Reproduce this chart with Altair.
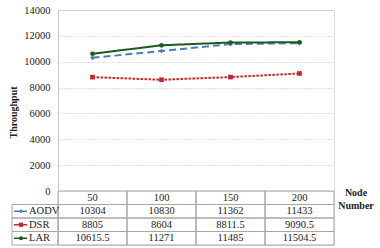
import altair as alt
import pandas as pd

nodes = ["50", "100", "150", "200"]
protocols = ["AODV", "DSR", "LAR"]
aodv = [10304, 10830, 11362, 11433]
dsr = [8805, 8604, 8811.5, 9090.5]
lar = [10615.5, 11271, 11485, 11504.5]
y_ticks = [0, 2000, 4000, 6000, 8000, 10000, 12000, 14000]

series = {"AODV": aodv, "DSR": dsr, "LAR": lar}
colors = ["#4a7ebb", "#c0282a", "#1d5a1d"]
marker_colors = ["#1f4e8c", "#c0282a", "#0f3d0f"]
dashes = [[7, 4], [2.5, 1.5], [1, 0]]
shapes = ["diamond", "square", "circle"]

rows = []
for p in protocols:
    for n, v in zip(nodes, series[p]):
        rows.append({"Protocol": p, "Node": n, "Throughput": v, "Label": f"{v:g}", "Row": p})
df = pd.DataFrame(rows)
hdr = pd.DataFrame({"Node": nodes, "Label": nodes, "Row": ["hdr"] * 4})
cells = pd.concat([hdr, df[["Node", "Label", "Row"]]], ignore_index=True)
keys = pd.DataFrame({"Protocol": protocols, "Row": protocols})

SERIF = "Liberation Serif"
row_domain = ["hdr"] + protocols
x_enc = alt.X("Node:N", sort=nodes, bandPosition=0.5,
              scale=alt.Scale(type="band", domain=nodes, paddingInner=0, paddingOuter=0),
              axis=None)
x_band = alt.X("Node:N", sort=nodes,
               scale=alt.Scale(type="band", domain=nodes, paddingInner=0, paddingOuter=0),
               axis=None)
color_scale = alt.Scale(domain=protocols, range=colors)
mcolor_scale = alt.Scale(domain=protocols, range=marker_colors)
row_scale = alt.Scale(type="band", domain=row_domain, range=[181, 235], paddingInner=0, paddingOuter=0)
tp_scale = alt.Scale(domain=[0, 14000], range=[181, 0], nice=False)

base = alt.Chart(df)
lines = base.mark_line(strokeWidth=2).encode(
    x=x_enc,
    y=alt.Y("Throughput:Q", scale=tp_scale,
            axis=alt.Axis(values=y_ticks, format="d", title="Throughput",
                          titleFont=SERIF, titleFontSize=10, titleFontWeight="bold",
                          titleColor="#222", titleX=-45, titleY=102, titleAngle=-90,
                          titleAlign="center", titleBaseline="middle",
                          labelFont=SERIF, labelFontSize=10.5, labelColor="#222",
                          labelPadding=8, tickSize=0, domainColor="#c8c8c8",
                          grid=True, gridColor="#bcbcbc", gridDash=[1, 2])),
    color=alt.Color("Protocol:N", scale=color_scale, legend=None),
    strokeDash=alt.StrokeDash("Protocol:N", scale=alt.Scale(domain=protocols, range=dashes), legend=None),
    detail="Protocol:N",
)
points = base.mark_point(filled=True, size=22, opacity=1).encode(
    x=x_enc,
    y=alt.Y("Throughput:Q", scale=tp_scale, axis=None),
    color=alt.Color("Protocol:N", scale=mcolor_scale, legend=None),
    shape=alt.Shape("Protocol:N", scale=alt.Scale(domain=protocols, range=shapes), legend=None),
)

cell_rects = alt.Chart(cells).mark_rect(filled=False, color="#a6a6a6", strokeWidth=1).encode(
    x=x_band,
    y=alt.Y("Row:N", scale=row_scale, axis=None),
)
cell_text = alt.Chart(cells).mark_text(font=SERIF, fontSize=10.5, color="#222", baseline="middle").encode(
    x=x_enc,
    y=alt.Y("Row:N", scale=row_scale, axis=None, bandPosition=0.5),
    text="Label:N",
)
key_rects = alt.Chart(keys).mark_rect(filled=False, color="#a6a6a6", strokeWidth=1).encode(
    x=alt.value(-46), x2=alt.value(0),
    y=alt.Y("Row:N", scale=row_scale, axis=None),
)
key_lines = alt.Chart(keys).mark_rule(strokeWidth=1.5).encode(
    x=alt.value(-44), x2=alt.value(-31),
    y=alt.Y("Row:N", scale=row_scale, axis=None, bandPosition=0.5),
    color=alt.Color("Protocol:N", scale=color_scale, legend=None),
)
key_pts = alt.Chart(keys).mark_point(filled=True, size=18, opacity=1).encode(
    x=alt.value(-37),
    y=alt.Y("Row:N", scale=row_scale, axis=None, bandPosition=0.5),
    color=alt.Color("Protocol:N", scale=mcolor_scale, legend=None),
    shape=alt.Shape("Protocol:N", scale=alt.Scale(domain=protocols, range=shapes), legend=None),
)
key_text = alt.Chart(keys).mark_text(font=SERIF, fontSize=10.5, color="#222", align="left", baseline="middle").encode(
    x=alt.value(-29),
    y=alt.Y("Row:N", scale=row_scale, axis=None, bandPosition=0.5),
    text="Protocol:N",
)
node_title = alt.Chart(pd.DataFrame({"t": ["Node\nNumber"]})).mark_text(
    font=SERIF, fontSize=10, fontWeight="bold", color="#222", lineBreak="\n",
    lineHeight=13, align="center", baseline="middle"
).encode(x=alt.value(298), y=alt.value(183), text="t:N")

chart = alt.layer(
    lines, points, cell_rects, cell_text, key_rects, key_lines, key_pts, key_text, node_title
).resolve_scale(y="independent").properties(
    width=276, height=235,
    autosize=alt.AutoSizeParams(type="none"),
    padding={"left": 58, "top": 10, "right": 46, "bottom": 3},
).configure_view(stroke="#d0d0d0").configure(background="white", font=SERIF)

chart.save("out.html", embed_options={"renderer": "svg", "actions": False})
